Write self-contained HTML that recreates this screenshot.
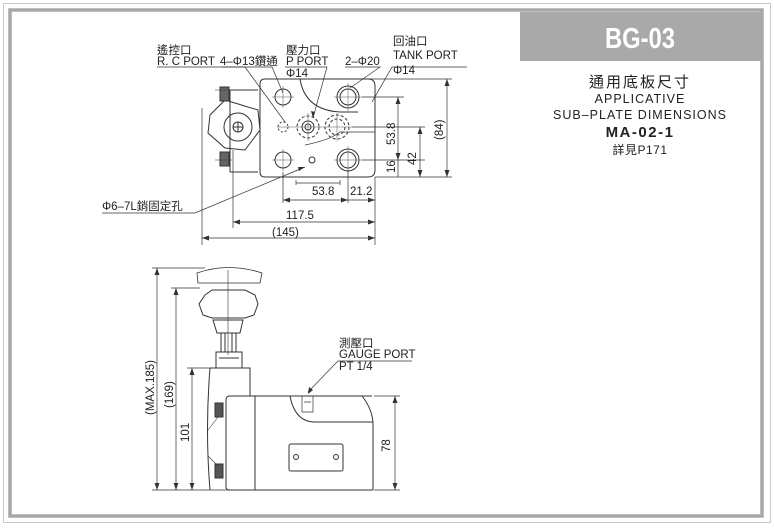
<!DOCTYPE html>
<html><head><meta charset="utf-8"><style>
html,body{margin:0;padding:0;background:#fff;}
svg{display:block;font-family:"Liberation Sans","Noto Sans CJK TC",sans-serif;}
</style></head><body>
<svg width="774" height="531" viewBox="0 0 774 531" xmlns="http://www.w3.org/2000/svg">
<rect x="0" y="0" width="774" height="531" fill="#fff"/>
<!-- frame -->
<rect x="3.5" y="3.5" width="767" height="519" fill="none" stroke="#c8c8c8" stroke-width="1"/>
<rect x="10" y="10" width="752" height="506" fill="none" stroke="#a8a8a8" stroke-width="3.5"/>
<!-- header -->
<rect x="520" y="12" width="241" height="49" fill="#a9a9a9"/>
<text x="640" y="48" font-size="29" font-weight="bold" fill="#fff" text-anchor="middle" transform="translate(640 0) scale(0.82 1) translate(-640 0)">BG-03</text>
<g fill="#222" text-anchor="middle">
<text x="640" y="87" font-size="15" letter-spacing="2">通用底板尺寸</text>
<text x="640" y="103" font-size="12.5" letter-spacing="1">APPLICATIVE</text>
<text x="640" y="119" font-size="12.5" letter-spacing="1">SUB–PLATE DIMENSIONS</text>
<text x="640" y="137" font-size="15" font-weight="bold" letter-spacing="1.5">MA-02-1</text>
<text x="640" y="154" font-size="12" letter-spacing="0.5">詳見P171</text>
</g>

<g fill="none" stroke="#333" stroke-width="1">
<!-- top view -->
<path d="M265 79 H368 Q375 79 375 86 V170 Q375 177 368 177 H265 Q260 177 260 172 V84 Q260 79 265 79 Z"/>
<path d="M300 79 Q305 110 340 112 L358 112" />
<path d="M305 145 Q330 140 340 132 L375 132" stroke-width="0.8"/>
<!-- left unit -->
<path d="M230 90 H258 M230 172 H258 M230 90 V172"/>
<path d="M210 115 L225 100 L258 110 L260 130 L245 150 L225 148 L208 133 Z"/>
<circle cx="238" cy="127" r="14"/>
<circle cx="238" cy="127" r="5"/>
<path d="M233 127 H243 M238 122 V132"/>
<rect x="220" y="87" width="9" height="14" fill="#666"/>
<rect x="220" y="152" width="9" height="14" fill="#666"/>
<path d="M215 90 H232 M215 160 H232" stroke-width="0.6"/>
<!-- holes -->
<circle cx="283" cy="97" r="8"/>
<circle cx="348" cy="97" r="11"/><circle cx="348" cy="97" r="8"/>
<circle cx="283" cy="160" r="8"/>
<circle cx="348" cy="160" r="11"/><circle cx="348" cy="160" r="8"/>
<circle cx="283" cy="127" r="5" stroke-dasharray="2 2"/>
<circle cx="308" cy="127" r="11" stroke-dasharray="3 2"/>
<circle cx="308" cy="127" r="6"/><circle cx="308" cy="127" r="3"/>
<circle cx="337" cy="127" r="12" stroke-dasharray="3 2"/>
<circle cx="337" cy="127" r="8" stroke-dasharray="3 2"/>
<circle cx="312" cy="160" r="3"/>
<!-- centerlines -->
<g stroke-width="0.5" stroke="#555">
<path d="M272 97 H294 M283 86 V108 M334 97 H362 M348 83 V111 M272 160 H294 M283 149 V171 M334 160 H362 M348 146 V174 M277 127 H352 M308 113 V141 M337 113 V141"/>
</g>
<!-- dims top view -->
<g stroke-width="0.7">
<path d="M362 79 H452 M362 97 H404 M352 127 H425 M362 160 H425 M375 177 H452"/>
<path d="M398 97 V160 M420 127 V177 M447 79 V177 M398 160 V177"/>
<path d="M283 172 V203 M348 170 V203 M375 177 V245 M233 150 V228 M202 108 V245"/>
<path d="M296 185 V180 M340 185 V180 M296 183 H340"/>
<path d="M283 200 H375 M233 222 H375 M202 238 H375"/>
</g>
<!-- leaders -->
<g stroke-width="0.7">
<path d="M157 67 H245 L285 122"/>
<path d="M222 67 H272 L283 93"/>
<path d="M285 67 H327 L313 118"/>
<path d="M345 67 H380 L350 88"/>
<path d="M392 67 H467 M392 67 L372 102"/>
<path d="M102 213 H195 L305 167"/>
</g>
<!-- side view -->
<path d="M197 273 Q228 262 262 273 L260 283 H198 Z" stroke-width="0.8"/>
<path d="M205 295 L212 290 H245 L255 295 L258 304 L254 315 L245 318 H212 L203 315 L199 304 Z"/>
<path d="M213 320 H243 L240 333 H217 Z"/>
<path d="M221 333 V352 M236 333 V352 M225 333 V352 M232 333 V352"/>
<path d="M216 352 H242 V368 H216 Z M219 358 H239"/>
<path d="M228 270 V355" stroke-width="0.6"/>
<path d="M210 368 H250 V396 M210 368 Q205 430 210 490"/>
<path d="M230 396 H372 M226 400 Q226 396 230 396 M226 400 V487 Q226 490 230 490 H373"/>
<path d="M255 396 V490"/>
<path d="M362 396 Q373 410 373 425 V490"/>
<path d="M290 396 Q295 422 315 422 H373"/>
<path d="M302 396 V412 H313 V396 M304 402 H311" stroke-width="0.7"/>
<rect x="289" y="444" width="54" height="27" rx="2"/>
<circle cx="296" cy="457" r="2.5"/><circle cx="336" cy="457" r="2.5"/>
<rect x="215" y="403" width="8" height="14" fill="#555"/>
<rect x="215" y="464" width="8" height="14" fill="#555"/>
<path d="M208 430 L218 417 M208 456 L218 466" stroke-width="0.6"/>
<!-- side dims -->
<g stroke-width="0.7">
<path d="M152 268 H205 M171 288 H200 M187 368 H212 M152 490 H230 M374 396 H400 M374 490 H400"/>
<path d="M157 268 V490 M176 288 V490 M192 368 V490 M395 396 V490"/>
<path d="M338 361 H412 M338 361 L308 392"/>
</g>
</g>
<!-- arrowheads -->
<g fill="#333">
<path d="M398 97 l-2.5 7 h5 z M398 160 l-2.5 -7 h5 z M420 127 l-2.5 7 h5 z M420 177 l-2.5 -7 h5 z M447 79 l-2.5 7 h5 z M447 177 l-2.5 -7 h5 z"/>
<path d="M283 200 l7 -2.5 v5 z M348 200 l-7 -2.5 v5 z M375 200 l-7 -2.5 v5 z M233 222 l7 -2.5 v5 z M375 222 l-7 -2.5 v5 z M202 238 l7 -2.5 v5 z M375 238 l-7 -2.5 v5 z"/>
<path d="M157 268 l-2.5 7 h5 z M157 490 l-2.5 -7 h5 z M176 288 l-2.5 7 h5 z M176 490 l-2.5 -7 h5 z M192 368 l-2.5 7 h5 z M192 490 l-2.5 -7 h5 z M395 396 l-2.5 7 h5 z M395 490 l-2.5 -7 h5 z"/>
<path d="M308 394 l1 -7 l4 3 z M313 118 l-2 -7 l4 1 z M305 167 l-6 4 l-1 -4 z"/>
</g>
<!-- labels -->
<g fill="#222" font-size="11.5">
<text x="157" y="54">遙控口</text>
<text x="157" y="65">R. C PORT</text>
<text x="220" y="65">4–Φ13鑽通</text>
<text x="286" y="54">壓力口</text>
<text x="286" y="65">P  PORT</text>
<text x="286" y="77">Φ14</text>
<text x="345" y="65">2–Φ20</text>
<text x="393" y="45">回油口</text>
<text x="393" y="59">TANK  PORT</text>
<text x="393" y="74">Φ14</text>
<text x="102" y="210">Φ6–7L銷固定孔</text>
<text x="312" y="195">53.8</text>
<text x="350" y="195">21.2</text>
<text x="286" y="219">117.5</text>
<text x="272" y="236">(145)</text>
<text transform="translate(395 145) rotate(-90)">53.8</text>
<text transform="translate(416 165) rotate(-90)">42</text>
<text transform="translate(395 173) rotate(-90)">16</text>
<text transform="translate(443 140) rotate(-90)">(84)</text>
<text transform="translate(154 415) rotate(-90)">(MAX.185)</text>
<text transform="translate(173 408) rotate(-90)">(169)</text>
<text transform="translate(189 442) rotate(-90)">101</text>
<text transform="translate(390 452) rotate(-90)">78</text>
<text x="339" y="347">測壓口</text>
<text x="339" y="358">GAUGE  PORT</text>
<text x="339" y="370">PT 1/4</text>
</g>
</svg>
</body></html>
